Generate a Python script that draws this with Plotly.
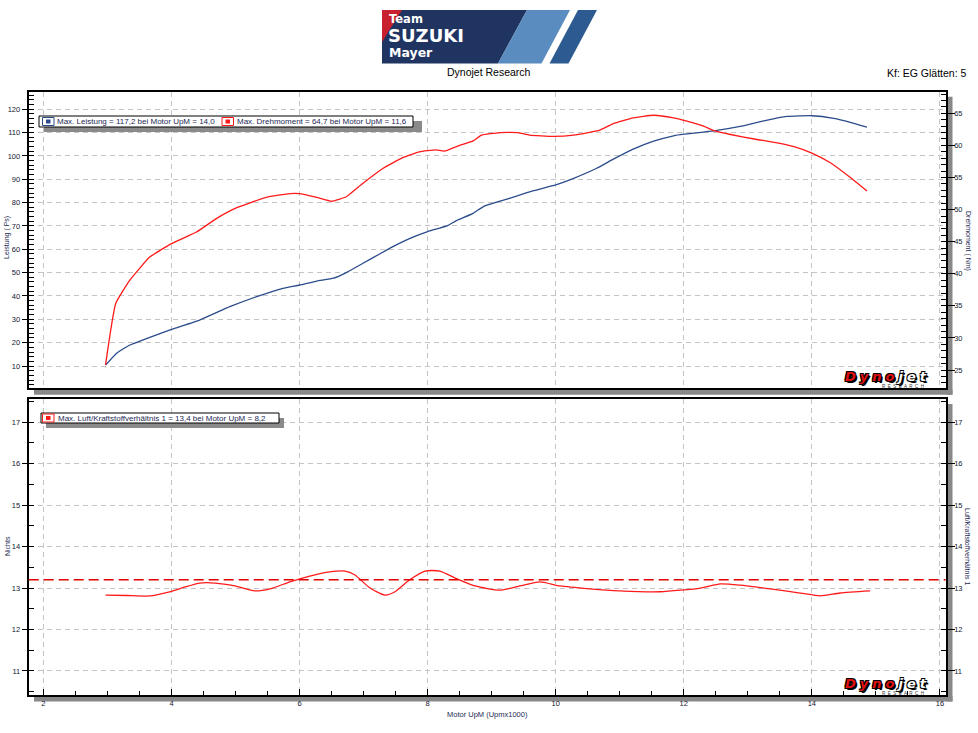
import plotly.graph_objects as go

# ---------------- data ----------------
rpm_power = [2.97, 3.14, 3.35, 3.66, 4.0, 4.44, 4.91, 5.33, 5.74, 6.0, 6.27, 6.53, 6.73, 6.99,
             7.25, 7.51, 7.77, 8.0, 8.3, 8.45, 8.71, 8.87, 9.13, 9.4, 9.65, 10.0, 10.28, 10.64,
             10.9, 11.21, 11.53, 11.84, 12.0, 12.47, 12.88, 13.25, 13.61, 14.0, 14.34, 14.6, 14.86]
power_ps = [10.4, 15.4, 19.0, 22.3, 25.7, 29.7, 35.4, 39.7, 43.3, 44.7, 46.4, 47.6, 50.0, 54.0,
            58.0, 61.9, 65.2, 67.6, 70.0, 72.3, 75.4, 78.3, 80.6, 82.9, 85.1, 87.6, 90.4, 94.7,
            98.6, 102.9, 106.3, 108.6, 109.3, 110.7, 112.6, 115.0, 116.9, 117.2, 116.1, 114.4, 112.3]

rpm_torque = [2.97, 3.13, 3.35, 3.66, 4.0, 4.39, 4.7, 5.02, 5.48, 5.85, 6.0, 6.27, 6.5, 6.73, 6.99,
              7.3, 7.61, 7.87, 8.13, 8.26, 8.5, 8.71, 8.84, 9.13, 9.41, 9.59, 9.96, 10.28, 10.69,
              10.9, 11.21, 11.53, 11.84, 12.05, 12.31, 12.47, 12.73, 13.1, 13.46, 13.72, 14.0,
              14.29, 14.6, 14.86]
torque_nm = [25.8, 35.4, 39.0, 42.6, 44.7, 46.5, 48.6, 50.3, 51.9, 52.5, 52.5, 51.9, 51.3, 52.0, 54.1,
             56.4, 58.1, 59.0, 59.3, 59.1, 60.0, 60.7, 61.6, 62.0, 62.0, 61.6, 61.4, 61.6, 62.4,
             63.4, 64.3, 64.7, 64.3, 63.8, 63.0, 62.3, 61.7, 61.0, 60.4, 59.8, 58.8,
             57.3, 55.0, 52.9]

rpm_afr = [2.97, 3.3, 3.66, 3.97, 4.2, 4.44, 4.68, 4.99, 5.3, 5.54, 5.85, 6.16, 6.47, 6.71, 6.86,
           7.1, 7.33, 7.49, 7.72, 7.96, 8.19, 8.43, 8.74, 9.13, 9.44, 9.75, 10.07, 10.53, 11.0,
           11.63, 12.26, 12.57, 12.88, 13.35, 13.82, 14.13, 14.44, 14.91]
afr = [12.83, 12.82, 12.81, 12.91, 13.02, 13.12, 13.12, 13.05, 12.93, 12.98, 13.15, 13.29, 13.39,
       13.41, 13.32, 13.0, 12.83, 12.91, 13.2, 13.41, 13.41, 13.24, 13.05, 12.95, 13.05, 13.15,
       13.05, 12.98, 12.93, 12.91, 13.0, 13.1, 13.07, 12.98, 12.88, 12.81, 12.88, 12.93]
afr_target = 13.2

legend_top_1 = "Max. Leistung = 117,2 bei Motor UpM = 14,0"
legend_top_2 = "Max. Drehmoment = 64,7 bei Motor UpM = 11,6"
legend_bottom = "Max. Luft/Kraftstoffverhältnis 1 = 13,4 bei Motor UpM = 8,2"

# ---------------- helpers ----------------
W, H = 978, 733
def px(x):
    return x / W
def py(y):
    return 1 - y / H

BLUE = "#2b4c8c"
RED = "#ff1a1a"
TXT = "#1d2a55"
FONT = "Liberation Sans"
GRID = "#c4c4c4"

XD = [px(28.7), px(945.7)]
TOPD = [py(388.3), py(91.7)]
BOTD = [py(695), py(399)]
XR = [1.77, 16.09]

fig = go.Figure()
fig.add_trace(go.Scatter(x=rpm_power, y=power_ps, mode="lines", xaxis="x", yaxis="y",
                         line=dict(color=BLUE, width=1.3, shape="spline", smoothing=0.4),
                         showlegend=False, hoverinfo="skip"))
fig.add_trace(go.Scatter(x=rpm_torque, y=torque_nm, mode="lines", xaxis="x", yaxis="y2",
                         line=dict(color=RED, width=1.3, shape="spline", smoothing=0.4),
                         showlegend=False, hoverinfo="skip"))
fig.add_trace(go.Scatter(x=rpm_afr, y=afr, mode="lines", xaxis="x2", yaxis="y3",
                         line=dict(color=RED, width=1.3, shape="spline", smoothing=0.6),
                         showlegend=False, hoverinfo="skip"))

tickfont = dict(family=FONT, size=7.5, color="#101830")
axline = dict(showline=True, linecolor="black", linewidth=2)
griddef = dict(showgrid=True, gridcolor=GRID, gridwidth=1, griddash="5px,4px")

fig.update_layout(
    width=W, height=H, margin=dict(l=0, r=0, t=0, b=0),
    paper_bgcolor="white", plot_bgcolor="white", showlegend=False,
    xaxis=dict(domain=XD, range=XR, anchor="y", dtick=2, tick0=2, showticklabels=False,
               ticks="", mirror=True, zeroline=False, **axline, **griddef),
    yaxis=dict(domain=TOPD, range=[0.45, 127.5], anchor="x", dtick=10, tick0=0,
               ticks="outside", ticklen=5, tickcolor="black", tickwidth=1, tickfont=tickfont,
               minor=dict(dtick=2, tick0=0, ticks="inside", ticklen=5, tickcolor="black", showgrid=False),
               zeroline=False, **axline, **griddef),
    yaxis2=dict(range=[22.15, 68.37], overlaying="y", side="right", anchor="x", dtick=5, tick0=0,
                ticks="outside", ticklen=7, tickcolor="black", tickwidth=1, tickfont=tickfont,
                minor=dict(dtick=1, tick0=0, ticks="inside", ticklen=5, tickcolor="black", showgrid=False),
                ticklabelstandoff=-2, showgrid=False, zeroline=False, **axline),
    xaxis2=dict(domain=XD, range=XR, anchor="y3", dtick=2, tick0=2,
                ticks="inside", ticklen=6, tickcolor="black", tickfont=tickfont,
                minor=dict(dtick=0.5, tick0=0, ticks="inside", ticklen=4, tickcolor="black", showgrid=False),
                ticklabelstandoff=0, mirror=True, zeroline=False, **axline, **griddef),
    yaxis3=dict(domain=BOTD, range=[10.42, 17.56], anchor="x2", dtick=1, tick0=0,
                ticks="outside", ticklen=5, tickcolor="black", tickfont=tickfont,
                minor=dict(dtick=0.5, tick0=0, ticks="inside", ticklen=5, tickcolor="black", showgrid=False),
                zeroline=False, **axline, **griddef),
    yaxis4=dict(range=[10.42, 17.56], overlaying="y3", side="right", anchor="x2", dtick=1, tick0=0,
                ticks="outside", ticklen=7, tickcolor="black", tickfont=tickfont,
                minor=dict(dtick=0.5, tick0=0, ticks="inside", ticklen=5, tickcolor="black", showgrid=False),
                ticklabelstandoff=-2, showgrid=False, zeroline=False, **axline),
)
# empty trace so the right-hand AFR axis is drawn
fig.add_trace(go.Scatter(x=[None], y=[None], xaxis="x2", yaxis="y4", showlegend=False))

shapes = []
def rect(x0, y0, x1, y1, fill, line=None, lw=0, layer="above"):
    shapes.append(dict(type="rect", xref="paper", yref="paper",
                       x0=px(x0), x1=px(x1), y0=py(y1), y1=py(y0),
                       fillcolor=fill, line=dict(color=line or fill, width=lw), layer=layer))
def poly(pts, fill):
    path = "M " + " L ".join(f"{px(a):.5f},{py(b):.5f}" for a, b in pts) + " Z"
    shapes.append(dict(type="path", xref="paper", yref="paper", path=path,
                       fillcolor=fill, line=dict(width=0), layer="above"))

# plot shadows
for top, bot in [(91.7, 388.3), (399, 695)]:
    rect(946.5, top + 5, 952.5, bot + 6.5, "#888888", layer="below")
    rect(34, bot + 1, 952.5, bot + 6.5, "#888888", layer="below")

# team logo
poly([(382, 10), (527, 10), (498, 63.5), (382, 63.5)], "#1f3461")
poly([(382, 10), (402, 10), (382, 42)], "#c8202f")
poly([(527, 10), (570, 10), (541.5, 63.5), (498, 63.5)], "#5b8cc0")
poly([(578, 10), (597, 10), (568.5, 63.5), (549.5, 63.5)], "#2d5a90")

# legends
rect(44, 121, 422, 132, "#8a8a8a")
rect(39, 116, 413, 127, "white", "black", 1)
rect(42.5, 117.5, 54, 125.5, "white", BLUE, 1)
rect(46, 119.5, 50.5, 123.5, BLUE)
rect(222, 117.5, 233.5, 125.5, "white", RED, 1)
rect(225.5, 119.5, 230, 123.5, RED)

rect(46, 418, 284, 428, "#8a8a8a")
rect(41, 413, 279, 423, "white", "black", 1)
rect(42.5, 414, 54, 422, "white", RED, 1)
rect(46, 416, 50.5, 420, RED)

# target AFR line
shapes.append(dict(type="line", xref="x2 domain", yref="y3", x0=0, x1=1, y0=afr_target, y1=afr_target,
                   line=dict(color="#e00000", width=1.5, dash="10px,5px")))

fig.update_layout(shapes=shapes)

ann = []
def text(x, y, s, size=8, color=TXT, xanchor="left", angle=0, family=FONT, **kw):
    ann.append(dict(x=px(x), y=py(y), xref="paper", yref="paper", text=s, showarrow=False,
                    xanchor=xanchor, yanchor="middle", textangle=angle,
                    font=dict(family=family, size=size, color=color, **kw)))

text(387, 19, "<b>Team</b>", size=11.5, color="white", family="DejaVu Sans")
text(386, 35.5, "<b>SUZUKI</b>", size=18, color="white", family="DejaVu Sans")
text(387, 52.5, "<b>Mayer</b>", size=12.5, color="white", family="DejaVu Sans")
text(489, 72, "Dynojet Research", size=10.5, color="black", xanchor="center")
text(969, 73, "Kf: EG Glätten: 5", size=10.5, color="black", xanchor="right")

text(55, 121.5, legend_top_1, size=8)
text(235, 121.5, legend_top_2, size=8)
text(56, 418, legend_bottom, size=8)

text(7, 238, "Leistung ( Ps)", size=7, color=TXT, xanchor="center", angle=-90)
text(968, 241, "Drehmoment ( Nm)", size=7, color=TXT, xanchor="center", angle=90)
text(7, 546, "Nichts", size=7, color=TXT, xanchor="center", angle=-90)
text(968, 546, "Luft/Kraftstoffverhältnis 1", size=7, color=TXT, xanchor="center", angle=90)
text(487, 714, "Motor UpM (Upmx1000)", size=7.5, color=TXT, xanchor="center")

outline = "1px 1px 0 #000, -1px -1px 0 #000, 1px -1px 0 #000, -1px 1px 0 #000, 2px 2px 0 #000"
for yl in (376, 683):
    ann.append(dict(x=px(887), y=py(yl), xref="paper", yref="paper", showarrow=False,
                    xanchor="center", yanchor="middle",
                    text="<span style='color:#e01010;letter-spacing:4px'>Dyno</span>"
                         "<span style='color:white;letter-spacing:4px'>jet</span>",
                    font=dict(family="DejaVu Sans", size=13, weight="bold", style="italic", shadow=outline)))
    text(903, yl + 10.5, "R  E  S  E  A  R  C  H", size=4.5, color="#333", xanchor="center")

fig.update_layout(annotations=ann)
fig.write_html("out.html", config={"displayModeBar": False},
               post_script="document.body.style.margin='0';document.body.style.overflow='hidden';")
